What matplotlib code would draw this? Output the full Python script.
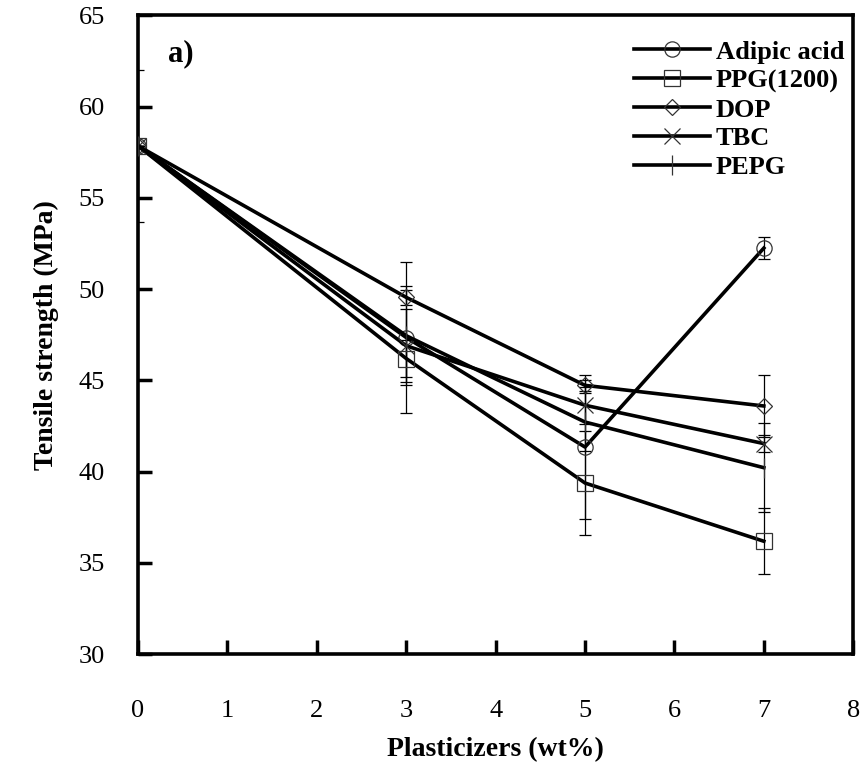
import matplotlib
matplotlib.use('Agg')
import matplotlib.pyplot as plt
import numpy as np

plt.rcParams['font.family'] = 'serif'
plt.rcParams['font.serif'] = ['Liberation Serif', 'DejaVu Serif']

# data
loading = [0, 3, 5, 7]
adipic = [57.85, 47.35, 41.35, 52.25]
adipic_err = [4.15, 4.15, 3.93, 0.6]
ppg = [57.85, 46.2, 39.38, 36.19]
ppg_err = [0, 1.0, 2.86, 1.8]
dop = [57.85, 49.55, 44.73, 43.6]
dop_err = [0, 0.4, 0.3, 1.72]
tbc = [57.85, 46.9, 43.64, 41.54]
tbc_err = [0, 2.0, 1.0, 0.45]
pepg = [57.85, 47.45, 42.72, 40.22]
pepg_err = [0, 2.7, 1.6, 2.45]

names = ['Adipic acid', 'PPG(1200)', 'DOP', 'TBC', 'PEPG']
series = [adipic, ppg, dop, tbc, pepg]
errors = [adipic_err, ppg_err, dop_err, tbc_err, pepg_err]
markers = ['o', 's', 'D', 'x', '|']
msizes = [11, 11, 8, 12, 15]

fig = plt.figure(figsize=(8.68, 7.67), dpi=100)
ax = fig.add_axes([0.159, 0.147, 0.824, 0.833])

x = np.array(loading)
for name, y, e, m, ms in zip(names, series, errors, markers, msizes):
    ax.errorbar(x, y, yerr=e, fmt='none', ecolor='black', elinewidth=0.9,
                capsize=4, capthick=0.9, zorder=2)
    ax.plot(x, y, color='black', linewidth=2.6, marker=m, markersize=ms,
            markerfacecolor='none', markeredgecolor='0.2', markeredgewidth=0.9,
            label=name, zorder=3)

ax.set_xlim(0, 8)
ax.set_ylim(30, 65)
ax.set_xticks(range(0, 9))
ax.set_yticks(range(30, 66, 5))

ax.tick_params(axis='both', direction='in', length=10, width=2.5, labelsize=19)
ax.tick_params(axis='x', pad=33)
ax.tick_params(axis='y', pad=24)

bwith = 2.6
for s in ['top', 'right', 'bottom', 'left']:
    ax.spines[s].set_linewidth(bwith)

ax.set_xlabel('Plasticizers (wt%)', fontsize=20, fontweight='bold', labelpad=11)
ax.set_ylabel('Tensile strength (MPa)', fontsize=20, fontweight='bold', labelpad=14)

ax.text(0.33, 62.9, 'a)', fontsize=22, fontweight='bold', ha='left', va='center')

leg = ax.legend(loc='upper right', bbox_to_anchor=(1.013, 0.99), frameon=False,
                handlelength=2.9, prop={'weight': 'bold', 'size': 19},
                labelspacing=0.2, handletextpad=0.2, borderaxespad=0.3,
                borderpad=0.4)

plt.savefig('out.png', dpi=100)
